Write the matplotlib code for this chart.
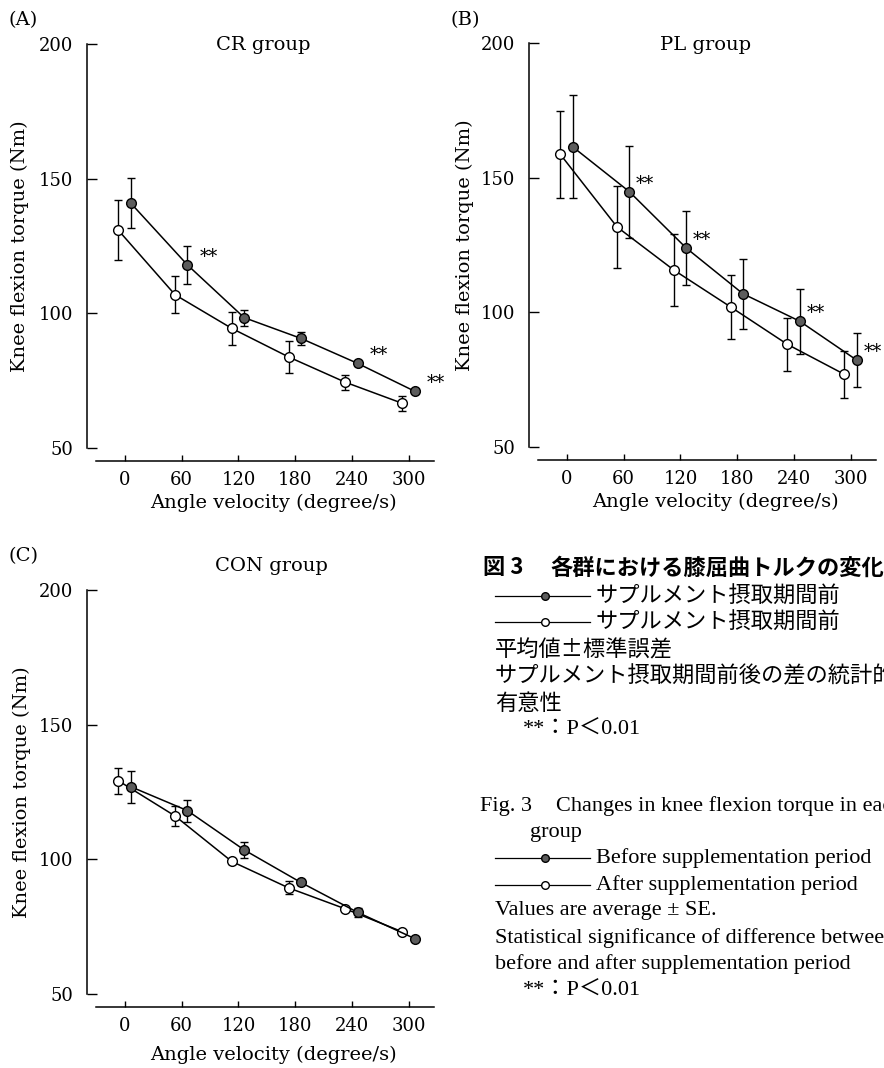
import matplotlib.pyplot as plt
from matplotlib.lines import Line2D

# ---- data -----------------------------------------------------------------
velocities = [0, 60, 120, 180, 240, 300]

cr_before = [141.0, 118.0, 98.4, 90.7, 81.4, 71.1]
cr_before_se = [9.4, 7.0, 3.0, 2.5, 1.0, 0.8]
cr_after = [130.9, 106.9, 94.4, 83.8, 74.4, 66.6]
cr_after_se = [11.0, 6.8, 6.0, 6.0, 2.8, 2.8]
cr_sig = [60, 240, 300]

pl_before = [161.5, 144.8, 123.9, 106.9, 96.7, 82.3]
pl_before_se = [19.2, 17.1, 13.9, 13.0, 12.1, 10.0]
pl_after = [158.7, 131.7, 115.7, 102.0, 88.1, 77.0]
pl_after_se = [16.1, 15.1, 13.2, 12.0, 9.9, 8.8]
pl_sig = [60, 120, 240, 300]

con_before = [127.0, 118.1, 103.5, 91.4, 80.3, 70.6]
con_before_se = [5.9, 4.1, 3.1, 1.0, 1.6, 0.5]
con_after = [129.2, 116.1, 99.2, 89.4, 81.6, 73.1]
con_after_se = [4.8, 3.6, 1.0, 2.4, 0.5, 0.5]
con_sig = []

y_ticks = [50, 100, 150, 200]

# ---- style ----------------------------------------------------------------
W, H = 884, 1068
SERIF = "DejaVu Serif"
TIMES = ["Liberation Serif", "Noto Sans CJK JP"]
JP = ["Noto Sans CJK JP", "DejaVu Sans"]
FILL = "#5c5c5c"
DX_BEFORE, DX_AFTER = 6, -7  # horizontal jitter of the two series


def px(x, y):
    return x / W, 1 - y / H


def panel(ax, before, before_se, after, after_se, sig, star_dx):
    xb = [v + DX_BEFORE for v in velocities]
    xa = [v + DX_AFTER for v in velocities]
    common = dict(color="black", lw=1.1, elinewidth=1.0, capsize=3,
                  capthick=1.0, ms=7, mec="black", mew=1.0, clip_on=False)
    ax.errorbar(xa, after, yerr=after_se, fmt="o-", mfc="white", zorder=3, **common)
    ax.errorbar(xb, before, yerr=before_se, fmt="o-", mfc=FILL, zorder=4, **common)
    for v in sig:
        i = velocities.index(v)
        ax.text(v + DX_BEFORE + star_dx, before[i] + 3.0, "**", family=SERIF,
                fontsize=13, ha="left", va="center", clip_on=False)

    ax.set_xlim(-40, 335)
    ax.set_ylim(50, 200)
    ax.set_xticks(velocities)
    ax.set_yticks(y_ticks)
    for side in ("top", "right"):
        ax.spines[side].set_visible(False)
    ax.spines["left"].set_linewidth(1.1)
    ax.spines["bottom"].set_linewidth(1.1)
    ax.spines["bottom"].set_position(("outward", 9.5))
    ax.spines["bottom"].set_bounds(-30, 327)
    ax.tick_params(axis="y", direction="in", length=7, width=1.0, pad=10,
                   labelsize=13)
    ax.tick_params(axis="x", direction="in", length=4, width=1.0, pad=7,
                   labelsize=13)
    for lab in ax.get_xticklabels() + ax.get_yticklabels():
        lab.set_family(SERIF)
    ax.set_ylabel("Knee flexion torque (Nm)", family=SERIF, fontsize=14)
    ax.set_xlabel("Angle velocity (degree/s)", family=SERIF, fontsize=14)
    ax.patch.set_alpha(0)


fig = plt.figure(figsize=(W / 100, H / 100), dpi=100)

ax_a = fig.add_axes([87 / W, 1 - 448 / H, 355 / W, 404 / H])
ax_b = fig.add_axes([529 / W, 1 - 447 / H, 355 / W, 404 / H])
ax_c = fig.add_axes([87 / W, 1 - 994 / H, 355 / W, 404 / H])

panel(ax_a, cr_before, cr_before_se, cr_after, cr_after_se, cr_sig, 13)
panel(ax_b, pl_before, pl_before_se, pl_after, pl_after_se, pl_sig, 7)
panel(ax_c, con_before, con_before_se, con_after, con_after_se, con_sig, 10)

ax_a.yaxis.set_label_coords(-0.162, 0.5)
ax_b.yaxis.set_label_coords(-0.155, 0.5)
ax_c.yaxis.set_label_coords(-0.158, 0.5)
ax_a.xaxis.set_label_coords(0.524, -0.113)
ax_b.xaxis.set_label_coords(0.524, -0.113)
ax_c.xaxis.set_label_coords(0.524, -0.127)

# panel letters and titles
for label, (x, y) in (("(A)", (9, 20)), ("(B)", (450, 20)), ("(C)", (9, 556))):
    fig.text(*px(x, y), label, family=SERIF, fontsize=14, ha="left", va="center")
for title, (x, y) in (("CR group", (263, 45)), ("PL group", (706, 45)),
                      ("CON group", (271, 566))):
    fig.text(*px(x, y), title, family=SERIF, fontsize=14, ha="center", va="center")

# ---- caption ----------------------------------------------------------------
jp_title = ["図 3", "各群における膝屈曲トルクの変化"]
jp_keys = ["サプルメント摂取期間前", "サプルメント摂取期間前"]
jp_notes = ["平均値±標準誤差", "サプルメント摂取期間前後の差の統計的", "有意性"]
p_note = "**：P＜0.01"
en_title = ["Fig. 3", "Changes in knee flexion torque in each", "group"]
en_keys = ["Before supplementation period", "After supplementation period"]
en_notes = ["Values are average ± SE.",
            "Statistical significance of difference between",
            "before and after supplementation period"]

fig.text(*px(483, 568), jp_title[0], family=JP, fontsize=16, fontweight="bold",
         ha="left", va="center")
fig.text(*px(550, 568), jp_title[1], family=JP, fontsize=16,
         fontweight="bold", ha="left", va="center")
for y, s in zip((596, 622), jp_keys):
    fig.text(*px(596, y), s, family=JP, fontsize=16, ha="left", va="center")
for y, s in zip((650, 676, 703), jp_notes):
    fig.text(*px(495, y), s, family=JP, fontsize=16, ha="left", va="center")
fig.text(*px(523, 730), p_note, family=TIMES, fontsize=16, ha="left", va="center")

fig.text(*px(480, 806), en_title[0], family=TIMES, fontsize=16, ha="left", va="center")
fig.text(*px(556, 806), en_title[1], family=TIMES, fontsize=16, ha="left", va="center")
fig.text(*px(530, 832), en_title[2], family=TIMES, fontsize=16, ha="left", va="center")
for y, s in zip((858, 885), en_keys):
    fig.text(*px(596, y), s, family=TIMES, fontsize=16, ha="left", va="center")
for y, s in zip((911, 938, 964), en_notes):
    fig.text(*px(495, y), s, family=TIMES, fontsize=16, ha="left", va="center")
fig.text(*px(523, 991), p_note, family=TIMES, fontsize=16, ha="left", va="center")

# small legend keys inside the caption
for y, face in ((596, FILL), (622, "white"), (858, FILL), (885, "white")):
    x0, y0 = px(495, y)
    x1, _ = px(590, y)
    xm, _ = px(545, y)
    fig.add_artist(Line2D([x0, x1], [y0, y0], color="black", lw=0.9))
    fig.add_artist(Line2D([xm], [y0], marker="o", ms=5.5, mfc=face,
                          mec="black", mew=1.0, lw=0))

fig.savefig("out.png", dpi=100)
